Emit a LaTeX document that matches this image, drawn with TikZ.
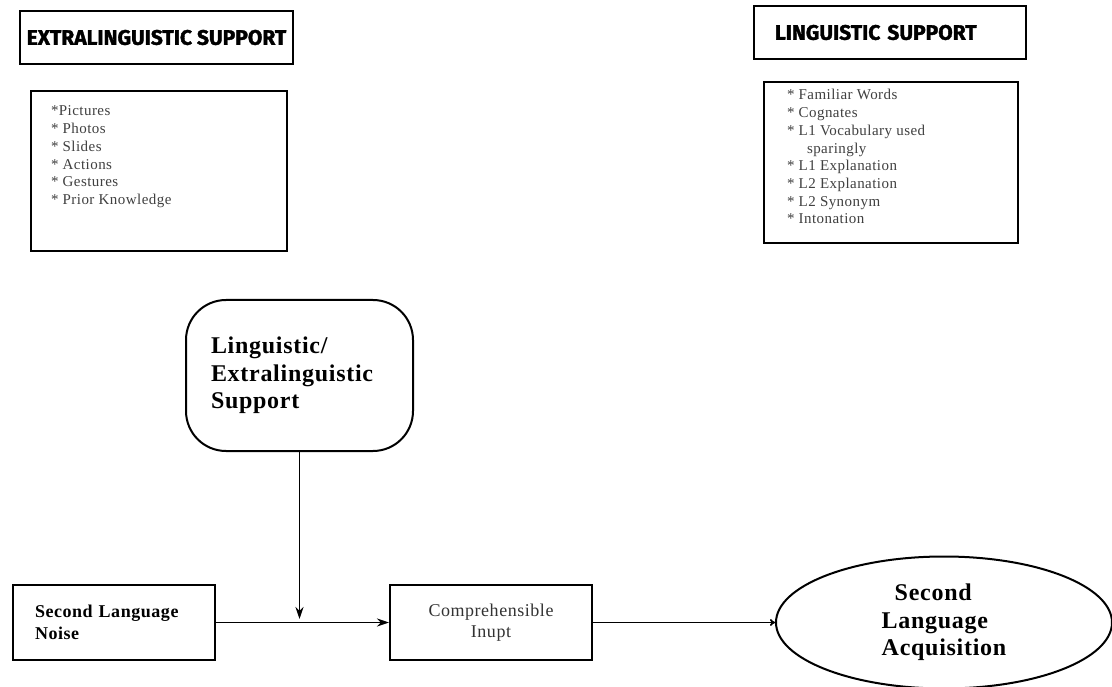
\documentclass[tikz,border=0pt]{standalone}
\usepackage{fontspec}
\setmainfont{Liberation Serif}
\newfontfamily\headfont{Fira Sans}[BoldFeatures={FakeBold=1.6}]
\newfontfamily\spacedfont{Liberation Serif}[LetterSpace=3]
\usetikzlibrary{shapes.geometric, arrows, arrows.meta}

\tikzstyle{heading} = [rectangle, minimum height=53pt, draw=black, line width=2.2pt, font=\headfont\bfseries\fontsize{21}{23}\selectfont]
\tikzstyle{listbox} = [rectangle, draw=black, line width=2pt, text=black!75, font=\spacedfont\fontsize{15}{17.7}\selectfont]
\tikzstyle{roundbox} = [rectangle, rounded corners=40pt, minimum width=227pt, minimum height=151pt, text width=177pt, align=left, draw=black, line width=2pt, font=\spacedfont\bfseries\fontsize{24}{27.5}\selectfont]
\tikzstyle{process} = [rectangle, minimum width=202pt, minimum height=75pt, draw=black, line width=2pt]
\tikzstyle{goal} = [ellipse, minimum width=336pt, minimum height=132pt, inner sep=0pt, align=left, draw=black, line width=2pt, font=\spacedfont\bfseries\fontsize{24}{27.5}\selectfont]
\tikzstyle{arrow} = [line width=1.8pt,->,>={Stealth[length=12pt, width=8pt]}]
\tikzstyle{thinarrow} = [line width=1.8pt,->,>={To[length=5pt, width=7pt]}]

\begin{document}
\begin{tikzpicture}[x=1pt, y=-1pt]
\clip (0,0) rectangle (1112,687);
\fill[white] (0,0) rectangle (1112,687);

% the two kinds of support
\node (extrahead) [heading, minimum width=273pt] at (156.5,37.5) {EXTRALINGUISTIC SUPPORT};
\node (extralist) [listbox, inner xsep=20pt, inner ysep=15pt] at (159,171) {\parbox[c][130pt][t]{216pt}{*Pictures\\
{*} Photos\\
{*} Slides\\
{*} Actions\\
{*} Gestures\\
{*} Prior Knowledge}};

\node (linghead) [heading, minimum width=272pt, text width=230pt, align=left, inner xsep=21pt] at (890,32.5) {LINGUISTIC SUPPORT};
\node (linglist) [listbox, inner xsep=23pt, inner ysep=7.5pt] at (891,162.5) {\parbox[c][146pt][t]{208pt}{* Familiar Words\\
{*} Cognates\\
{*} L1 Vocabulary used\\
\hspace*{20pt}sparingly\\
{*} L1 Explanation\\
{*} L2 Explanation\\
{*} L2 Synonym\\
{*} Intonation}};

% input model
\node (support) [roundbox] at (299.5,375.5) {Linguistic/\\Extralinguistic\\Support};
\node (noise) [process, text width=158pt, align=left, font=\spacedfont\bfseries\fontsize{18}{22}\selectfont] at (114,622.5) {Second Language\\Noise};
\node (input) [process, align=center, text=black!80, font=\spacedfont\fontsize{18}{21}\selectfont] at (491,622.5) {Comprehensible\\Inupt};
\node (acquisition) [goal] at (944,622.5) {\hspace*{13pt}Second\\Language\\Acquisition};
\coordinate (join) at (299.5,619);

\draw [arrow] (support) -- (join);
\draw [arrow] (noise) -- (input);
\draw [thinarrow] (input) -- (acquisition);

\end{tikzpicture}
\end{document}
